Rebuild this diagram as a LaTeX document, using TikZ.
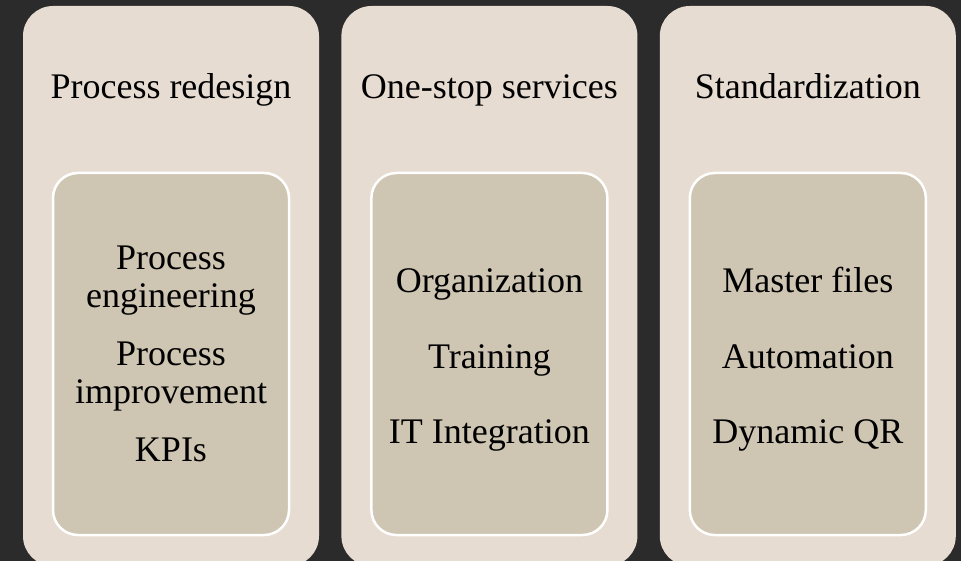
\documentclass[tikz,border=0pt]{standalone}
\usepackage{fontspec}
\setmainfont{Liberation Serif}
\usetikzlibrary{positioning}

\definecolor{slate}{HTML}{2B2B2B}
\definecolor{sand}{HTML}{E7DCD1}
\definecolor{khaki}{HTML}{CEC5B2}

\begin{document}
\begin{tikzpicture}[x=1pt, y=-1pt, node distance=22pt,
  colbox/.style={fill=sand, rounded corners=30pt, minimum width=296pt,
    minimum height=560pt, inner sep=0pt},
  panelbox/.style={fill=khaki, draw=white, line width=2.5pt, rounded corners=25pt,
    minimum width=236pt, minimum height=362pt, inner sep=0pt},
  word/.style={anchor=base, inner sep=0pt, font=\fontsize{36}{38}\selectfont}]
  \fill[slate] (0,0) rectangle (961,561);
  \useasboundingbox (0,0) rectangle (961,561);
  \clip (0,0) rectangle (961,561);

  \node[colbox] (col1) at (171,286) {};
  \node[colbox] (col2) [right=of col1] {};
  \node[colbox] (col3) [right=of col2] {};

  \foreach \c in {1,2,3}
    \node[panelbox] (panel\c) at (col\c.center |- 0,354) {};

  \foreach \c/\name in {1/Process redesign, 2/One-stop services, 3/Standardization}
    \node[word] (title\c) at (col\c.center |- 0,99) {\name};

  % left panel
  \foreach \yb/\txt [count=\i] in {270/Process, 308/engineering, 365/Process,
      403/improvement, 461/KPIs}
    \node[word] (redesign\i) at (panel1.center |- 0,\yb) {\txt};

  % middle panel
  \foreach \yb/\txt [count=\i] in {293/Organization, 368/Training, 443/IT Integration}
    \node[word] (service\i) at (panel2.center |- 0,\yb) {\txt};

  % right panel
  \foreach \yb/\txt [count=\i] in {293/Master files, 368/Automation, 443/Dynamic QR}
    \node[word] (standard\i) at (panel3.center |- 0,\yb) {\txt};
\end{tikzpicture}
\end{document}
